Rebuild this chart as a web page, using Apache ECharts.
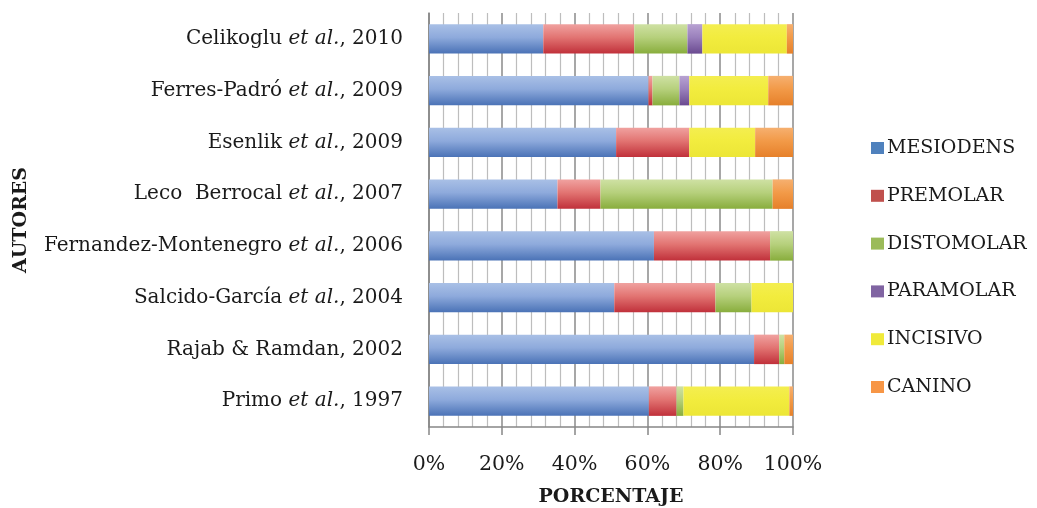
<!DOCTYPE html>
<html>
<head>
<meta charset="utf-8">
<script src="https://cdn.jsdelivr.net/npm/echarts@6/dist/echarts.min.js"></script>
<style>
  html, body { margin: 0; padding: 0; background: #fff; }
  #chart { width: 1037px; height: 508px; }
</style>
</head>
<body>
<div id="chart"></div>
<script>
// Authors (top to bottom) and share of each supernumerary tooth type, in %
const authors = [
  'Celikoglu et al., 2010',
  'Ferres-Padró et al., 2009',
  'Esenlik et al., 2009',
  'Leco  Berrocal et al., 2007',
  'Fernandez-Montenegro et al., 2006',
  'Salcido-García et al., 2004',
  'Rajab & Ramdan, 2002',
  'Primo et al., 1997'
];
const mesiodens  = [31.4, 60.3, 51.4, 35.3, 61.8, 50.9, 89.3, 60.4];
const premolar   = [25.0,  1.1, 20.1, 11.8, 31.9, 27.8,  6.9,  7.6];
const distomolar = [14.6,  7.4,  0.0, 47.3,  6.3,  9.9,  1.4,  1.9];
const paramolar  = [ 4.1,  2.7,  0.0,  0.0,  0.0,  0.0,  0.0,  0.0];
const incisivo   = [23.2, 21.7, 18.1,  0.0,  0.0, 11.4,  0.0, 29.1];
const canino     = [ 1.7,  6.8, 10.4,  5.6,  0.0,  0.0,  2.4,  1.0];
const xTicks = [0, 20, 40, 60, 80, 100];

const FONT = '"DejaVu Serif", serif';

function grad(top, mid, bottom) {
  return new echarts.graphic.LinearGradient(0, 0, 0, 1, [
    { offset: 0, color: top },
    { offset: 0.45, color: mid },
    { offset: 1, color: bottom }
  ]);
}

const seriesDefs = [
  { name: 'MESIODENS',  data: mesiodens,  legend: '#4f81bd', fill: grad('#a9c0e6', '#8eaadc', '#4a72b6') },
  { name: 'PREMOLAR',   data: premolar,   legend: '#c0504d', fill: grad('#f0a2a0', '#e27472', '#c0303a') },
  { name: 'DISTOMOLAR', data: distomolar, legend: '#9bbb59', fill: grad('#cfe1a4', '#b6d07c', '#88ad3c') },
  { name: 'PARAMOLAR',  data: paramolar,  legend: '#8064a2', fill: grad('#b8a2d2', '#9a80bc', '#6a4a90') },
  { name: 'INCISIVO',   data: incisivo,   legend: '#f0ea3a', fill: grad('#f4ee50', '#f2ec3e', '#ece636') },
  { name: 'CANINO',     data: canino,     legend: '#f79646', fill: grad('#f6b070', '#f29a48', '#e6802a') }
];

const chart = echarts.init(document.getElementById('chart'));

chart.setOption({
  animation: false,
  backgroundColor: '#ffffff',
  grid: { left: 429, right: 244, top: 13, bottom: 81, containLabel: false, outerBoundsMode: 'none' },
  legend: {
    orient: 'vertical',
    left: 866,
    top: 133,
    itemWidth: 13,
    itemHeight: 12,
    itemGap: 27.8,
    icon: 'rect',
    textStyle: { fontFamily: FONT, fontSize: 19, color: '#1a1a1a', lineHeight: 20, padding: [0, 0, 0, -2] },
    data: seriesDefs.map(s => ({ name: s.name, itemStyle: { color: s.legend } }))
  },
  xAxis: {
    type: 'value',
    min: 0,
    max: 100,
    interval: 20,
    name: 'PORCENTAJE',
    nameLocation: 'middle',
    nameGap: 61,
    nameTextStyle: { fontFamily: FONT, fontSize: 19, fontWeight: 'bold', color: '#1a1a1a' },
    axisLine: { show: true, lineStyle: { color: '#868686', width: 1.5 } },
    axisTick: { show: true, length: 8, lineStyle: { color: '#868686', width: 1.5 } },
    minorTick: { show: false, splitNumber: 5 },
    axisLabel: {
      margin: 27,
      fontFamily: FONT,
      fontSize: 20.5,
      color: '#1a1a1a',
      formatter: v => xTicks.indexOf(v) >= 0 ? v + '%' : ''
    },
    splitLine: { show: true, lineStyle: { color: '#8a8a8a', width: 1.5 } },
    minorSplitLine: { show: true, lineStyle: { color: '#bdbdbd', width: 1.2 } }
  },
  yAxis: {
    type: 'category',
    inverse: true,
    data: authors,
    name: 'AUTORES',
    nameLocation: 'middle',
    nameGap: 398,
    nameRotate: 90,
    nameTextStyle: { fontFamily: FONT, fontSize: 19, fontWeight: 'bold', color: '#1a1a1a' },
    axisLine: { show: true, lineStyle: { color: '#868686', width: 1.5 } },
    axisTick: { show: false },
    axisLabel: {
      margin: 26,
      fontFamily: FONT,
      fontSize: 20,
      color: '#1a1a1a',
      formatter: v => v.replace('et al.', '{i|et al.}'),
      rich: {
        i: { fontFamily: FONT, fontSize: 20, fontStyle: 'italic', color: '#1a1a1a' }
      }
    }
  },
  series: seriesDefs.map(s => ({
    name: s.name,
    type: 'bar',
    stack: 'total',
    barWidth: '57%',
    data: s.data,
    itemStyle: { color: s.fill }
  }))
});
</script>
</body>
</html>
